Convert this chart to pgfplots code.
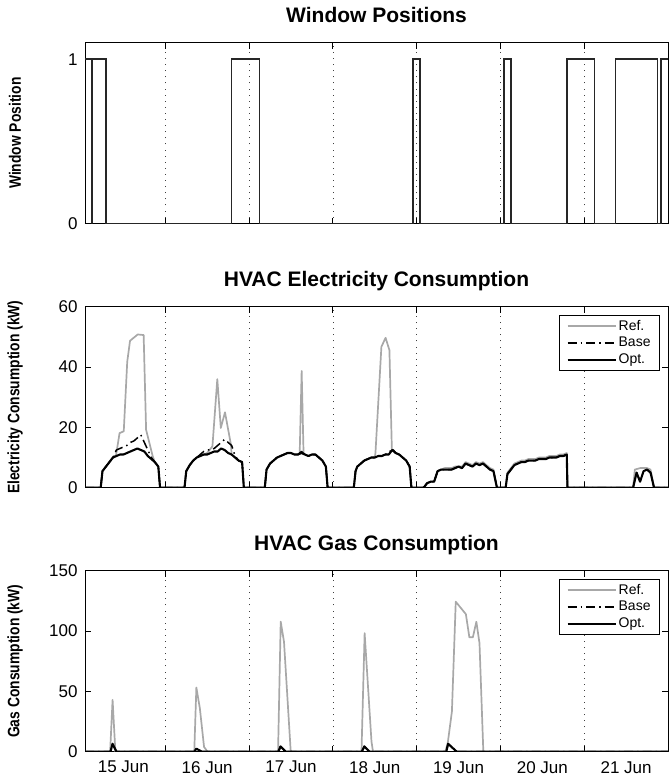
\documentclass[border=0pt]{standalone}
\usepackage{pgfplots}
\pgfplotsset{compat=1.18}
\usepackage{fontspec}
\setmainfont{Liberation Sans}
\definecolor{refgray}{RGB}{168,168,168}
\begin{document}
\begin{tikzpicture}[x=1pt,y=1pt]
\useasboundingbox (0,0) rectangle (670,-778);
\pgfplotsset{
  panel/.style={
    width=583pt, height=181pt, scale only axis,
    anchor=north west,
    xmin=1, xmax=168,
    xtick={24,48,72,96,120,144},
    xticklabels={},
    xmajorgrids,
    grid style={black!75, line width=0.7pt, dash pattern=on 0.9pt off 5.2pt},
    tick align=inside, major tick length=6pt,
    tick style={black, line width=0.8pt},
    axis line style={black, line width=0.9pt},
    ticklabel style={font=\fontsize{17}{19}\selectfont},
    yticklabel style={xshift=-4pt},
    xticklabel style={yshift=-6pt},
    /pgf/number format/assume math mode=true,
    title style={font=\bfseries\fontsize{21}{23}\selectfont, at={(axis description cs:0.5,1)}, anchor=base, yshift=14pt},
    ylabel style={font=\bfseries\fontsize{16.5}{18}\selectfont, at={(axis description cs:-0.12,0.5)}, anchor=center, xscale=0.84},
    legend style={at={(1,1)}, anchor=north east, xshift=-8pt, yshift=-8pt,
      draw=black, line width=0.9pt, font=\fontsize{14}{16}\selectfont,
      inner xsep=7pt, inner ysep=3pt, row sep=1.5pt},
    legend cell align=left,
    legend image code/.code={\draw[#1] (0pt,0pt) -- (48pt,0pt);},
  },
  refline/.style={refgray, line width=1.7pt, line join=round},
  baseline/.style={black, line width=1.5pt, dash pattern=on 9pt off 4pt on 1.5pt off 4pt, line join=round},
  optline/.style={black, line width=2.1pt, line join=round},
}

% ---------- Window positions ----------
\begin{axis}[panel, at={(85pt,-42.7pt)},
  ymin=0, ymax=1.1, ytick={0,1},
  title={Window Positions}, ylabel={Window Position}]
\addplot[black!85, line width=1.5pt, line join=miter] coordinates {
(1,1)(3,1)(3,0)(3,1)(7,1)(7,0)(43,0)(43,1)(51,1)(51,0)(95,0)(95,1)(97,1)(97,0)
(121,0)(121,1)(123,1)(123,0)(139,0)(139,1)(147,1)(147,0)(153,0)(153,1)(165,1)(165,0)
(166,0)(166,1)(168,1)};
\end{axis}

% ---------- Electricity ----------
\begin{axis}[panel, at={(85pt,-306.7pt)},
  ymin=0, ymax=60, ytick={0,20,40,60},
  title={HVAC Electricity Consumption}, ylabel={Electricity Consumption (kW)}]
\addplot[refline] coordinates {
(1,0)(5.5,0)(6,5.5)(7,7)(8,8.5)(9,10)(9.9,10.8)(10.9,18.1)(12.1,18.7)(13.1,41.8)(13.9,48.7)(16.1,50.8)(17.8,50.6)(18.5,19.2)(20.4,10.4)(21,8.5)(22,7)(22.5,0)
(29.5,0)(30,5.5)(31,7.5)(32,9)(33,10)(34,10.5)(35,11)(36,11.5)(37.5,13.7)(38.9,36)(39.9,19.8)(41.1,25)(42.8,14.3)(43,11)(44,10)(45,9)(46,8.5)(46.5,0)
(52.5,0)(53,6)(54,8)(55,9)(56,10)(57,10.5)(58,11)(59,11.5)(60,11.5)(61,11)(62,11)(62.5,11.5)(63.06,38.7)(63.6,11.5)(64,11)(65,10.5)(66,11)(67,11)(68,10)(69,9)(70,7)(70.5,0)
(78,0)(78.5,5.5)(79,7)(80,8)(81,9)(82,9.5)(83,10)(84,10)(84.2,11.5)(85.9,46.7)(87.1,49.7)(88.2,45.6)(88.9,12.6)(89,12.5)(90,11.5)(91,11)(92,10)(93,9)(94,7)(94.5,0)
(98,0)(99,1.5)(100,2)(101,2)(102,5.5)(103,6)(104,6.5)(105,6.5)(106,6.5)(107,7)(108,7)(109,7)(110,8.5)(111,8)(112,7.5)(113,8.5)(114,8)(115,8.5)(116,7.5)(117,6.5)(118,6)(119,0)
(121.5,0)(122,5)(123,6.5)(124,8)(125,8.5)(126,9)(127,9)(128,9.5)(129,9.5)(130,9.5)(131,10)(132,10)(133,10)(134,10.5)(135,10.5)(136,10.5)(137,11)(138,11)(139,11.5)(139.2,0)
(158,0)(158.5,6)(160,6.5)(162,6.5)(163,6)(164,0)(168,0)};
\addplot[baseline] coordinates {
(1,0)(5.5,0)(6,5.5)(7,7)(8,8.5)(9,10)(10,12.5)(11,13)(12,13.5)(13,14)(14,15)(15,15.5)(16,16.5)(17,17.5)(18,15)(19,12.5)(20,10)(21,8.5)(22,7)(22.5,0)
(29.5,0)(30,5.5)(31,7.5)(32,9)(33,10)(34,11)(35,12)(36,12.5)(37,12.5)(38,13)(39,14)(40,15)(41,16)(42,15)(43,14)(44,10.5)(45,9)(46,8.5)(46.5,0)
(52.5,0)(53,6)(54,8)(55,9)(56,10)(57,10.5)(58,11)(59,11.5)(60,11.5)(61,11)(62,11)(63,12)(64,11)(65,10.5)(66,11)(67,11)(68,10)(69,9)(70,7)(70.5,0)
(78,0)(78.5,5.5)(79,7)(80,8)(81,9)(82,9.5)(83,10)(84,10)(85,10.5)(86,10.5)(87,11)(88,11.5)(89,13)(90,11.5)(91,11)(92,10)(93,9)(94,7)(94.5,0)
(98,0)(99,1.5)(100,2)(101,2)(102,5.5)(103,6)(104,6)(105,6)(106,6)(107,6.5)(108,7)(109,6.5)(110,8)(111,7.5)(112,7)(113,8)(114,7.5)(115,8)(116,7)(117,6)(118,5.5)(119,0)
(121.5,0)(122,4.5)(123,6)(124,7.5)(125,8)(126,8.5)(127,8.5)(128,9)(129,9)(130,9)(131,9.5)(132,9.5)(133,9.5)(134,10)(135,10)(136,10)(137,10.5)(138,10.5)(139,11)(139.2,0)
(158,0)(159,5)(160,2)(161,5.5)(162,6)(163,5)(164,0)(168,0)};
\addplot[optline] coordinates {
(1,0)(5.5,0)(6,5.5)(7,7)(8,8.5)(9,10)(10,10.5)(11,11)(12,11)(13,11.5)(14,12)(15,12.5)(16,13)(17,12.5)(18,12)(19,10.5)(20,9.5)(21,8.5)(22,7)(22.5,0)
(29.5,0)(30,5.5)(31,7.5)(32,9)(33,10)(34,10.5)(35,11)(36,11)(37,11.5)(38,12)(39,12)(40,13)(41,12.5)(42,11.5)(43,11)(44,10)(45,9)(46,8.5)(46.5,0)
(52.5,0)(53,6)(54,8)(55,9)(56,10)(57,10.5)(58,11)(59,11.5)(60,11.5)(61,11)(62,11)(63,11.5)(64,11)(65,10.5)(66,11)(67,11)(68,10)(69,9)(70,7)(70.5,0)
(78,0)(78.5,5.5)(79,7)(80,8)(81,9)(82,9.5)(83,10)(84,10)(85,10.5)(86,10.5)(87,11)(88,11)(89,12.5)(90,11.5)(91,11)(92,10)(93,9)(94,7)(94.5,0)
(98,0)(99,1.5)(100,2)(101,2)(102,5.5)(103,6)(104,6)(105,6)(106,6)(107,6.5)(108,7)(109,6.5)(110,8)(111,7.5)(112,7)(113,8)(114,7.5)(115,8)(116,7)(117,6)(118,5.5)(119,0)
(121.5,0)(122,4.5)(123,6)(124,7.5)(125,8)(126,8.5)(127,8.5)(128,9)(129,9)(130,9)(131,9.5)(132,9.5)(133,9.5)(134,10)(135,10)(136,10)(137,10.5)(138,10.5)(139,11)(139.2,0)
(158,0)(159,5)(160,2)(161,5.5)(162,6)(163,5)(164,0)(168,0)};
\legend{Ref.,Base,Opt.}
\end{axis}

% ---------- Gas ----------
\begin{axis}[panel, at={(85pt,-570.7pt)},
  ymin=0, ymax=150, ytick={0,50,100,150},
  extra x ticks={12,36,60,84,108,132,156},
  extra x tick labels={15 Jun,16 Jun,17 Jun,18 Jun,19 Jun,20 Jun,21 Jun},
  extra x tick style={major tick length=0pt, xmajorgrids=false},
  title={HVAC Gas Consumption}, ylabel={Gas Consumption (kW)}]
\addplot[refline] coordinates {
(1,0)(8.2,0)(8.9,43)(9.7,0)(32.3,0)(32.9,53.2)(33.9,36)(35.1,4)(36.1,0)(56.3,0)(57.06,107.8)(58,91.2)(59.9,1.4)(60.2,0)
(80.2,0)(81.1,98.2)(83.06,8.5)(83.5,0)(104.2,0)(104.9,7)(106.1,33.3)(107.2,124.3)(110.1,114)(111.1,94.8)(112.1,94.8)(113.1,107.7)(114,90)(115.1,0)(168,0)};
\addplot[baseline] coordinates {
(1,0)(8.3,0)(8.9,6.6)(10,0)(32.3,0)(32.9,2.5)(34.5,0)(56.4,0)(57,4.4)(58.5,0)(80.3,0)(81,4.4)(82.5,0)(104.5,0)(105,6.6)(107.5,0)(168,0)};
\addplot[optline] coordinates {
(1,0)(8.3,0)(8.9,6.6)(10,0)(32.3,0)(32.9,2.5)(34.5,0)(56.4,0)(57,4.4)(58.5,0)(80.3,0)(81,4.4)(82.5,0)(104.5,0)(105,6.6)(107.5,0)(168,0)};
\legend{Ref.,Base,Opt.}
\end{axis}
\end{tikzpicture}
\end{document}
